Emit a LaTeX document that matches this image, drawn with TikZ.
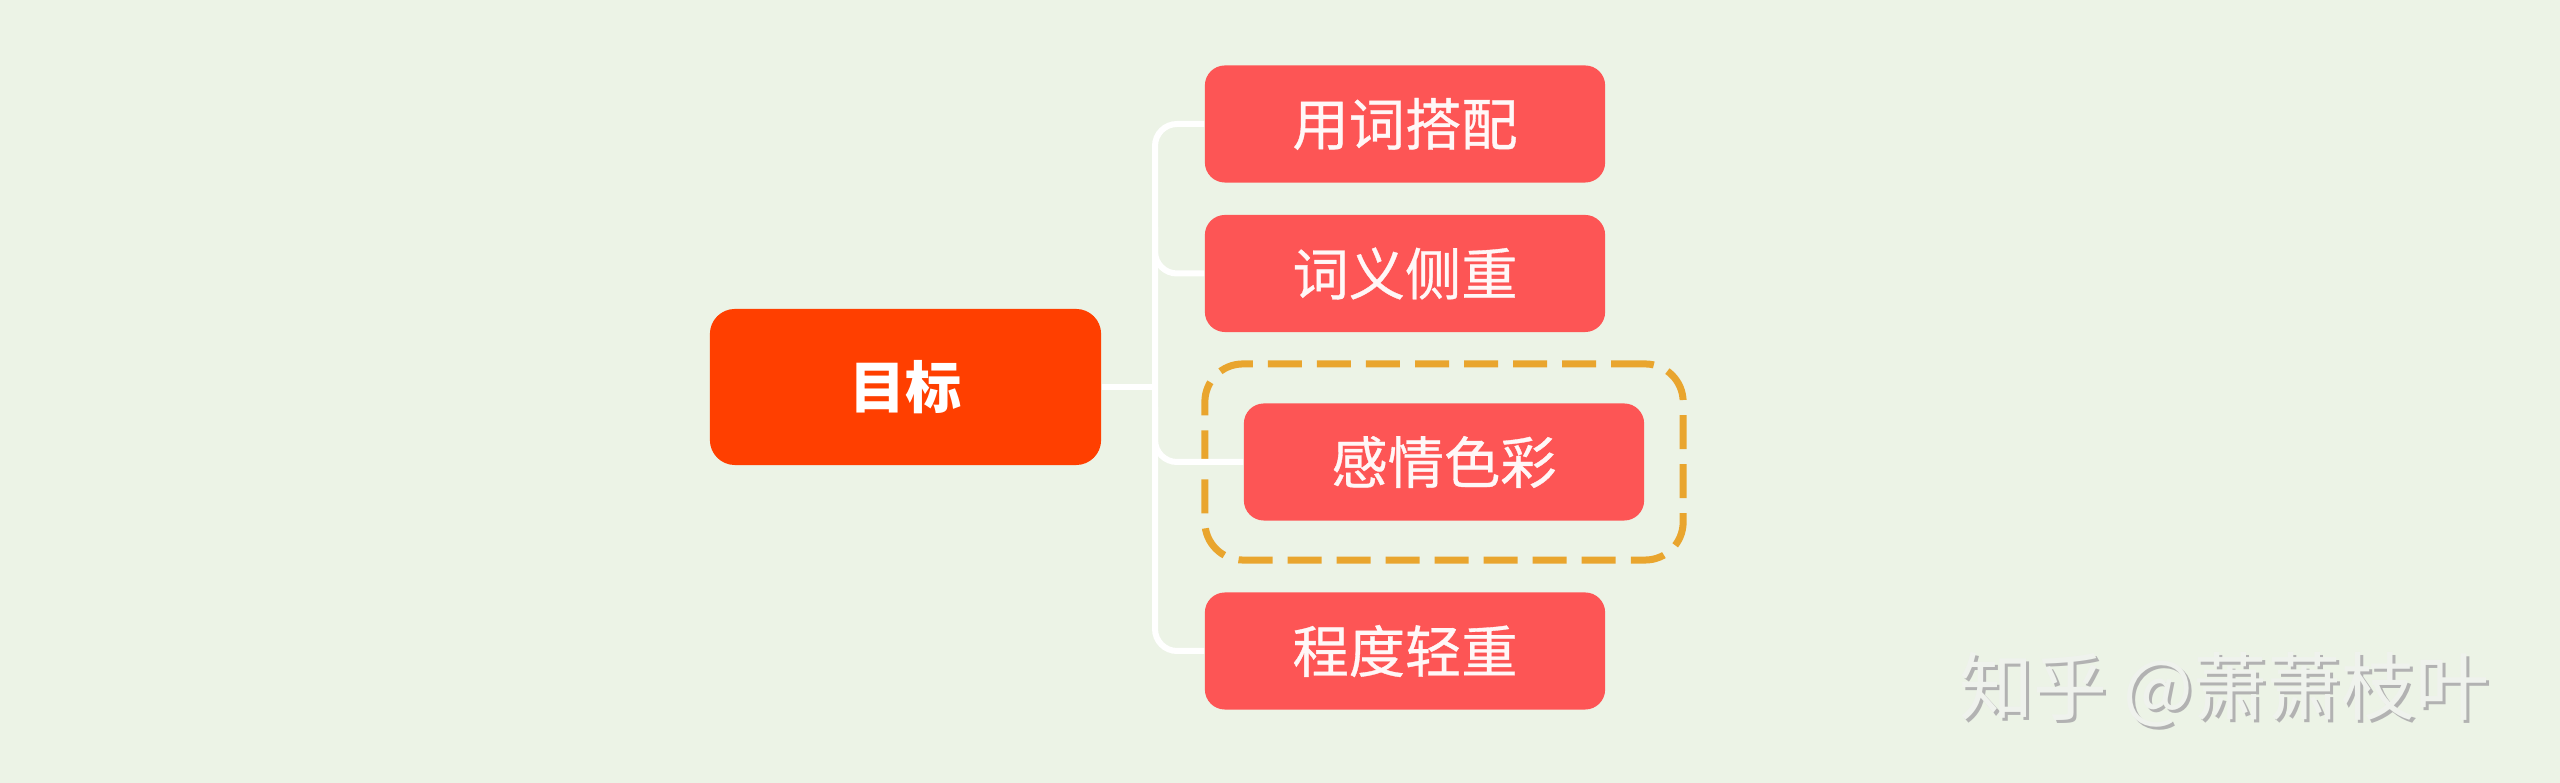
\documentclass[tikz,border=0pt]{standalone}
\usepackage{fontspec}
\newfontfamily\cjk{Noto Sans CJK SC}
\newfontfamily\cjkm[FakeBold=0.6]{Noto Sans CJK SC}
\usetikzlibrary{calc}
\definecolor{bgc}{HTML}{ECF3E6}
\definecolor{rootc}{HTML}{FF3F00}
\definecolor{kidc}{HTML}{FD5555}
\definecolor{dashc}{HTML}{E9A52E}
\definecolor{wmc}{HTML}{EFF2ED}
\tikzset{
  rootbox/.style={rectangle, rounded corners=0.25cm, fill=rootc, draw=none, inner sep=0pt,
    minimum width=3.91cm, minimum height=1.56cm, text=white, font=\cjk\bfseries\fontsize{16pt}{19pt}\selectfont},
  kidbox/.style={rectangle, rounded corners=0.2cm, fill=kidc, draw=none, inner sep=0pt,
    minimum width=4cm, minimum height=1.17cm, text=white!95!kidc, font=\cjkm\fontsize{16pt}{19pt}\selectfont},
  conn/.style={draw=white, line width=0.06cm, rounded corners=0.22cm},
  hilite/.style={draw=dashc, line width=0.07cm, rounded corners=0.38cm, dash pattern=on 0.34cm off 0.15cm},
  wmark/.style={anchor=west, font=\cjk\fontsize{21pt}{24pt}\selectfont},
}
\begin{document}
\begin{tikzpicture}[x=0.01cm, y=-0.01cm]
\fill[bgc] (0,0) rectangle (2560,783);
\useasboundingbox (0,0) rectangle (2560,783);
\node[rootbox] (root) at (905.5,387) {目标};
\node[kidbox] (c1) at (1405,124) {用词搭配};
\node[kidbox] (c2) at (1405,273.5) {词义侧重};
\node[kidbox] (c3) at (1444,462) {感情色彩};
\node[kidbox] (c4) at (1405,651) {程度轻重};
\coordinate (t) at (1155,387);
\node[hilite, rectangle, minimum width=4.78cm, minimum height=1.96cm, inner sep=0pt] (hl) at (1444,462) {};
\draw[conn] (root.east) -- (t);
\draw[conn] (c1.west) -| (t) |- (c4.west);
\draw[conn] ($(t)+(0,-160)$) |- (c2.west);
\draw[conn] ($(t)+(0,20)$) |- (c3.west);
\node[wmark, text=gray!60] (wms) at (1950,693) {知乎 @萧萧枝叶};
\node[wmark, text=wmc] (wm) at (1947,690) {知乎 @萧萧枝叶};
\end{tikzpicture}
\end{document}
